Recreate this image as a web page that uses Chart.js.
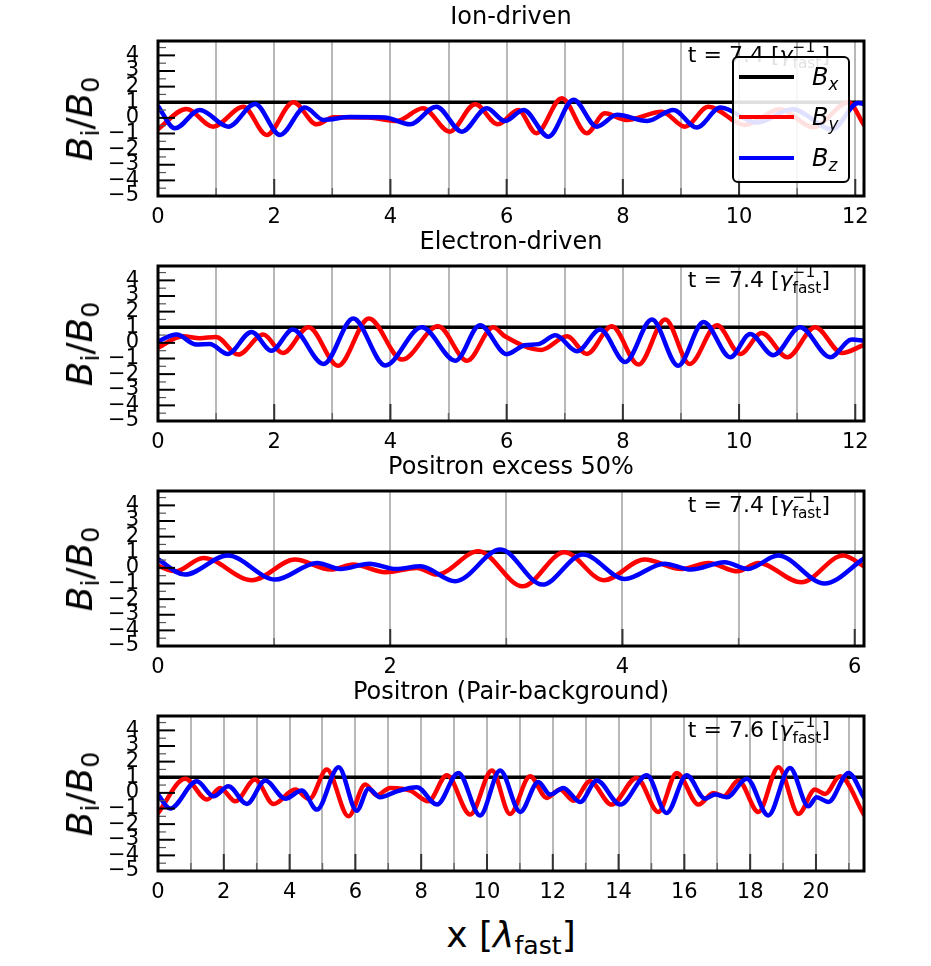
<!DOCTYPE html>
<html>
<head>
<meta charset="utf-8">
<script src="https://cdn.jsdelivr.net/npm/chart.js@4.4.1/dist/chart.umd.min.js"></script>
<style>
  body { margin: 0; background: #fff; font-family: "DejaVu Sans", sans-serif; color: #000; }
  #fig { position: relative; width: 931px; height: 966px; overflow: hidden; }
  canvas { position: absolute; left: 0; }
  .title { position: absolute; left: 158px; width: 706px; text-align: center; font-size: 24px; line-height: 24px; white-space: nowrap; }
  .note { position: absolute; right: 101px; font-size: 22px; line-height: 22px; white-space: nowrap; }
  .ylab { position: absolute; left: 80px; font-size: 36px; line-height: 36px; white-space: nowrap;
          transform: translate(-50%, -50%) rotate(-90deg); }
  .xlab { position: absolute; left: 158px; width: 706px; top: 917px; text-align: center; font-size: 36px; line-height: 36px; white-space: nowrap; }
  sub { font-size: 0.7em; vertical-align: -0.28em; line-height: 0; }
  .sb { position: relative; font-size: 0.7em; vertical-align: -0.42em; line-height: 0; }
  .sp { position: absolute; left: 0; top: -0.91em; line-height: 1em; }
  .legend { position: absolute; left: 732px; top: 56px; width: 114px; height: 123px; border: 2px solid #000; border-radius: 6px;
            background: rgba(255,255,255,0.88); z-index: 5; }
  .legend .row { position: absolute; left: 0; width: 100%; height: 0; }
  .legend .swatch { position: absolute; left: 5px; top: -2px; width: 55px; height: 4px; }
  .legend .lab { position: absolute; left: 78px; top: -13px; font-size: 24px; line-height: 26px; }
</style>
</head>
<body>
<div id="fig"></div>
<script>
// field profiles as [x, value] pairs
const ionBy = [[0,-0.72],[0.49,0.57],[0.95,-0.56],[1.47,0.72],[1.87,-1.09],[2.33,1.0],[2.73,-0.41],[3.02,0.04],[3.62,0.02],[4.11,-0.2],[4.56,0.62],[5.02,-0.88],[5.46,0.87],[5.85,-0.41],[6.2,0.5],[6.51,-0.98],[6.95,1.26],[7.38,-0.98],[7.69,0.29],[8.06,-0.13],[8.67,0.4],[9.07,-0.56],[9.47,0.72],[10.1,-0.45],[10.7,0.55],[11.28,-0.6],[11.88,1.0],[12.15,-0.45]];
const ionBz = [[0,0.75],[0.29,-0.67],[0.72,0.51],[1.21,-0.56],[1.67,0.89],[2.1,-1.09],[2.53,0.66],[2.85,-0.13],[3.3,0.05],[3.9,0.03],[4.34,-0.41],[4.79,0.72],[5.23,-0.88],[5.66,0.62],[5.97,-0.2],[6.29,0.51],[6.72,-1.2],[7.15,1.16],[7.55,-0.56],[7.9,0.2],[8.42,-0.2],[8.87,0.51],[9.27,-0.62],[9.68,0.66],[10.3,-0.3],[10.92,0.55],[11.6,-0.73],[12.05,0.95],[12.15,0.9]];

const elecBy = [[0,-0.3],[0.43,0.42],[0.72,0.3],[1.0,0.38],[1.38,-0.75],[1.81,0.53],[2.15,-0.65],[2.59,1.0],[3.1,-1.46],[3.63,1.56],[4.2,-1.07],[4.82,1.06],[5.32,-1.14],[5.77,1.0],[5.97,0.42],[6.6,-0.45],[7.04,0.42],[7.38,-0.71],[7.81,1.06],[8.27,-1.39],[8.73,1.49],[9.15,-1.35],[9.62,1.13],[10.02,-0.71],[10.39,0.64],[10.83,-0.92],[11.31,1.0],[11.77,-0.65],[12.15,-0.12]];
const elecBz = [[0,0.1],[0.32,0.53],[0.66,-0.11],[0.89,-0.07],[1.2,-0.71],[1.61,0.7],[1.95,-0.5],[2.32,0.85],[2.85,-1.35],[3.36,1.56],[3.91,-1.44],[4.54,1.0],[5.12,-1.14],[5.54,1.13],[6.0,-0.72],[6.31,-0.15],[6.55,-0.08],[6.84,0.49],[7.21,-0.54],[7.61,0.85],[8.04,-1.22],[8.5,1.49],[8.95,-1.46],[9.39,1.34],[9.85,-0.92],[10.19,0.57],[10.59,-0.79],[11.05,1.0],[11.57,-0.92],[11.94,0.21],[12.15,0.15]];

const excessBy = [[0,0.12],[0.15,-0.22],[0.39,0.64],[0.81,-0.79],[1.18,0.53],[1.49,-0.11],[1.68,0.21],[1.96,-0.28],[2.23,0.0],[2.4,-0.43],[2.76,1.06],[3.14,-1.18],[3.5,1.0],[3.84,-0.79],[4.19,0.53],[4.51,-0.07],[4.74,0.32],[4.99,-0.22],[5.17,0.32],[5.54,-0.92],[5.9,0.79],[6.08,0.1]];
const excessBz = [[0,0.55],[0.23,-0.43],[0.6,0.79],[1.01,-0.75],[1.37,0.32],[1.57,-0.07],[1.82,0.27],[2.05,-0.07],[2.26,0.1],[2.56,-0.86],[2.95,1.17],[3.31,-1.07],[3.66,0.85],[4.02,-0.71],[4.36,0.27],[4.59,-0.11],[4.88,0.36],[5.08,-0.07],[5.34,0.79],[5.74,-1.0],[6.08,0.6]];

const pairBy = [[0,-1.3],[0.83,0.91],[1.49,-0.43],[1.89,0.32],[2.35,-0.54],[2.95,0.85],[3.51,-0.71],[4.17,0.21],[4.6,-0.4],[5.13,1.49],[5.79,-1.5],[6.3,0.53],[6.65,-0.15],[7.06,0.32],[7.67,0.15],[8.22,-0.54],[8.78,1.13],[9.49,-1.39],[10.15,1.43],[10.7,-1.35],[11.31,1.06],[11.82,-0.32],[12.22,0.21],[12.63,-0.5],[13.13,0.74],[13.79,-0.75],[14.55,0.96],[15.21,-1.22],[15.77,1.28],[16.43,-0.75],[16.88,0.0],[17.19,-0.22],[17.64,0.79],[18.25,-1.22],[18.86,1.64],[19.47,-1.35],[19.97,0.21],[20.28,-0.07],[20.73,1.06],[21.46,-1.4]];
const pairBz = [[0,-0.1],[0.37,-1.0],[1.18,0.74],[1.69,-0.22],[2.14,0.42],[2.7,-0.71],[3.26,0.79],[3.87,-0.37],[4.37,0.15],[4.83,-1.07],[5.49,1.64],[6.04,-1.14],[6.4,0.27],[6.75,-0.28],[7.26,0.1],[7.87,0.36],[8.48,-0.75],[9.13,1.28],[9.79,-1.44],[10.4,1.43],[11.01,-1.22],[11.56,0.7],[11.92,-0.11],[12.32,0.32],[12.83,-0.58],[13.34,0.79],[14.05,-0.75],[14.86,1.13],[15.46,-1.29],[16.07,1.13],[16.63,-0.37],[16.93,-0.11],[17.29,-0.28],[17.9,0.91],[18.55,-1.44],[19.21,1.6],[19.77,-0.86],[20.02,-0.28],[20.38,-0.58],[20.99,1.28],[21.46,-0.3]];

const bxLevel = 1;                       // B_x / B_0 is flat
const panelTitles = ["Ion-driven", "Electron-driven", "Positron excess 50%", "Positron (Pair-background)"];
const panelTimes = ["7.4", "7.4", "7.4", "7.6"];
const xMaxes = [12.15, 12.15, 6.08, 21.46];
const yTickValues = [-5, -4, -3, -2, -1, 0, 1, 2, 3, 4];

const panels = [
  { by: ionBy, bz: ionBz },
  { by: elecBy, bz: elecBz },
  { by: excessBy, bz: excessBz },
  { by: pairBy, bz: pairBz },
];

const PANEL_H = 225;
const FONT = "DejaVu Sans";
const fig = document.getElementById("fig");

const fmt = v => (v < 0 ? "\u2212" + (-v) : String(v));
const toPts = arr => arr.map(p => ({ x: p[0], y: p[1] }));

// inward ticks + box frame, like the matplotlib axes
const frameTicks = {
  id: "frameTicks",
  afterDraw(chart) {
    const { ctx, chartArea: a, scales: { x, y } } = chart;
    const seg = (x0, y0, x1, y1) => { ctx.beginPath(); ctx.moveTo(x0, y0); ctx.lineTo(x1, y1); ctx.stroke(); };
    ctx.save();
    y.ticks.forEach(t => {
      const py = y.getPixelForValue(t.value);
      ctx.strokeStyle = "#000"; ctx.lineWidth = 2;
      seg(a.left, py, a.left + 17, py);
      const m = t.value + 0.5;
      if (m < y.max) {
        const pm = y.getPixelForValue(m);
        ctx.strokeStyle = "#555"; ctx.lineWidth = 1.2;
        seg(a.left, pm, a.left + 8, pm);
      }
    });
    x.ticks.forEach(t => {
      const px = x.getPixelForValue(t.value);
      const major = t.value % 2 === 0;
      ctx.strokeStyle = major ? "#333" : "#666";
      ctx.lineWidth = major ? 2 : 1.5;
      seg(px, a.bottom, px, a.bottom - (major ? 17 : 8));
    });
    ctx.strokeStyle = "#000";
    ctx.lineWidth = 3;
    ctx.strokeRect(a.left, a.top, a.right - a.left, a.bottom - a.top);
    ctx.restore();
  }
};

function addDiv(cls, html, style) {
  const d = document.createElement("div");
  d.className = cls;
  d.innerHTML = html;
  Object.assign(d.style, style || {});
  fig.appendChild(d);
  return d;
}

panels.forEach((p, i) => {
  const top = i * PANEL_H;
  const xMax = xMaxes[i];

  const cv = document.createElement("canvas");
  cv.width = 931;
  cv.height = PANEL_H;
  cv.style.top = top + "px";
  fig.appendChild(cv);

  new Chart(cv, {
    type: "line",
    data: {
      datasets: [
        { label: "Bx", data: [{ x: 0, y: bxLevel }, { x: xMax, y: bxLevel }], borderColor: "#000", borderWidth: 3.5, order: 3 },
        { label: "By", data: toPts(p.by), borderColor: "#ff0000", borderWidth: 4.5, cubicInterpolationMode: "monotone", order: 2 },
        { label: "Bz", data: toPts(p.bz), borderColor: "#0000ff", borderWidth: 4.5, cubicInterpolationMode: "monotone", order: 1 },
      ]
    },
    options: {
      responsive: false,
      animation: false,
      devicePixelRatio: 1,
      elements: { point: { radius: 0 }, line: { borderCapStyle: "round", borderJoinStyle: "round" } },
      layout: { padding: { top: 41, right: 67, left: 0, bottom: 0 } },
      plugins: { legend: { display: false }, tooltip: { enabled: false } },
      scales: {
        x: {
          type: "linear", min: 0, max: xMax,
          afterBuildTicks: s => {
            const t = [];
            for (let v = 0; v <= xMax; v++) t.push({ value: v });
            s.ticks = t;
          },
          afterFit: s => { s.height = PANEL_H - 196; },
          grid: { color: "#b8b8b8", lineWidth: 2, drawTicks: false },
          border: { display: false },
          ticks: {
            autoSkip: false, maxRotation: 0, padding: 9, color: "#000",
            font: { family: FONT, size: 21 },
            callback: v => (v % 2 === 0 ? fmt(v) : "")
          }
        },
        y: {
          min: -5, max: 4.92,
          afterBuildTicks: s => { s.ticks = yTickValues.map(v => ({ value: v })); },
          afterFit: s => { s.width = 158; },
          grid: { display: false },
          border: { display: false },
          ticks: { autoSkip: false, padding: 11, color: "#000", font: { family: FONT, size: 21 }, callback: v => fmt(v) }
        }
      }
    },
    plugins: [frameTicks]
  });

  addDiv("title", panelTitles[i], { top: (top + 4) + "px" });
  addDiv("note", "t = " + panelTimes[i] + " [<i>γ</i><span class=\"sb\">fast<span class=\"sp\">\u22121</span></span>]",
         { top: (top + 44) + "px" });
  addDiv("ylab", "<i>B</i><sub>i</sub>/<i>B</i><sub>0</sub>", { top: (top + 118.5) + "px" });
});

addDiv("xlab", "x [<i>λ</i><sub>fast</sub>]");

// legend of the first panel
const legendItems = [
  { color: "#000", sub: "x" },
  { color: "#ff0000", sub: "y" },
  { color: "#0000ff", sub: "z" },
];
const lg = addDiv("legend", "");
legendItems.forEach((it, k) => {
  const r = document.createElement("div");
  r.className = "row";
  r.style.top = [19, 59, 100][k] + "px";
  r.innerHTML = '<div class="swatch" style="background:' + it.color + '"></div>' +
                '<div class="lab"><i>B</i><sub><i>' + it.sub + '</i></sub></div>';
  lg.appendChild(r);
});
</script>
</body>
</html>
